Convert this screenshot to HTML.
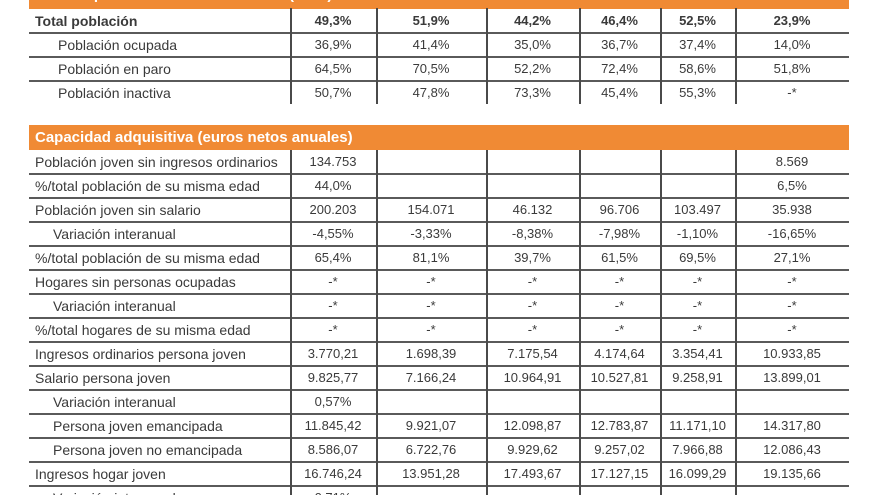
<!DOCTYPE html>
<html><head><meta charset="utf-8"><style>
html,body{margin:0;width:880px;height:495px;overflow:hidden;background:#fff;font-family:"Liberation Sans",sans-serif;color:#3a3a3a;}
#root{position:relative;width:880px;height:495px;overflow:hidden;}
.bar{position:absolute;left:29px;width:820px;background:#f08a34;color:#fff;font-weight:bold;font-size:15px;box-sizing:border-box;padding-left:6px;}
.cell{position:absolute;font-size:13px;white-space:nowrap;height:24px;line-height:24px;}
.lab{font-size:14px;}
.num{text-align:center;}
.h{position:absolute;left:29px;width:820px;height:1.5px;background:#5a5a5a;}
.v{position:absolute;width:1.5px;background:#4a4a4a;}
</style></head><body>
<div id="root">
<div class="bar" style="top:-17px;height:26px;line-height:24px;">Tasa de pobreza o exclusión social (2016)</div>
<div class="bar" style="top:125px;height:25px;line-height:25px;">Capacidad adquisitiva (euros netos anuales)</div>
</div>
<script>
const colEdges=[290,376,486,579,660,735,849];
const sec1Labels=["Total población","Población ocupada","Población en paro","Población inactiva"];
const sec1Indent=[0,1,1,1];
const sec1Values=[
["49,3%","51,9%","44,2%","46,4%","52,5%","23,9%"],
["36,9%","41,4%","35,0%","36,7%","37,4%","14,0%"],
["64,5%","70,5%","52,2%","72,4%","58,6%","51,8%"],
["50,7%","47,8%","73,3%","45,4%","55,3%","-*"]];
const sec2Labels=["Población joven sin ingresos ordinarios","%/total población de su misma edad","Población joven sin salario","Variación interanual","%/total población de su misma edad","Hogares sin personas ocupadas","Variación interanual","%/total hogares de su misma edad","Ingresos ordinarios persona joven","Salario persona joven","Variación interanual","Persona joven emancipada","Persona joven no emancipada","Ingresos hogar joven","Variación interanual"];
const sec2Indent=[0,0,0,1,0,0,1,0,0,0,1,1,1,0,1];
const sec2Values=[
["134.753","","","","","8.569"],
["44,0%","","","","","6,5%"],
["200.203","154.071","46.132","96.706","103.497","35.938"],
["-4,55%","-3,33%","-8,38%","-7,98%","-1,10%","-16,65%"],
["65,4%","81,1%","39,7%","61,5%","69,5%","27,1%"],
["-*","-*","-*","-*","-*","-*"],
["-*","-*","-*","-*","-*","-*"],
["-*","-*","-*","-*","-*","-*"],
["3.770,21","1.698,39","7.175,54","4.174,64","3.354,41","10.933,85"],
["9.825,77","7.166,24","10.964,91","10.527,81","9.258,91","13.899,01"],
["0,57%","","","","",""],
["11.845,42","9.921,07","12.098,87","12.783,87","11.171,10","14.317,80"],
["8.586,07","6.722,76","9.929,62","9.257,02","7.966,88","12.086,43"],
["16.746,24","13.951,28","17.493,67","17.127,15","16.099,29","19.135,66"],
["0,71%","","","","",""]];
const root=document.getElementById('root');
function section(top,labels,indent,values,boldFirst,indentPx,prefix){
  const rh=24;
  for(let r=0;r<labels.length;r++){
    const y=top+r*rh;
    const lab=document.createElement('div');
    lab.className='cell lab';
    lab.style.top=y+'px';
    lab.style.left=(indent[r]?indentPx:35)+'px';
    if(boldFirst&&r===0)lab.style.fontWeight='bold';
    lab.textContent=labels[r];
    
    
    root.appendChild(lab);
    for(let c=0;c<6;c++){
      const d=document.createElement('div');
      d.className='cell num';
      d.style.top=y+'px';
      d.style.left=colEdges[c]+'px';
      d.style.width=(colEdges[c+1]-colEdges[c])+'px';
      if(boldFirst&&r===0)d.style.fontWeight='bold';
      d.textContent=values[r][c];
      
      
      root.appendChild(d);
    }
    if(r<labels.length-1||prefix==='purchasing'){
      const h=document.createElement('div');
      h.className='h';
      h.style.top=(y+rh-1)+'px';
      
      
      root.appendChild(h);
    }
  }
  for(let c=0;c<6;c++){
    const v=document.createElement('div');
    v.className='v';
    v.style.left=colEdges[c]+'px';
    v.style.top=(top-(prefix==='poverty'?1:0))+'px';
    v.style.height=(labels.length*rh)+'px';
    
    
    root.appendChild(v);
  }
}
section(9,sec1Labels,sec1Indent,sec1Values,true,58,'poverty');
section(150,sec2Labels,sec2Indent,sec2Values,false,53,'purchasing');
</script>
</body></html>
